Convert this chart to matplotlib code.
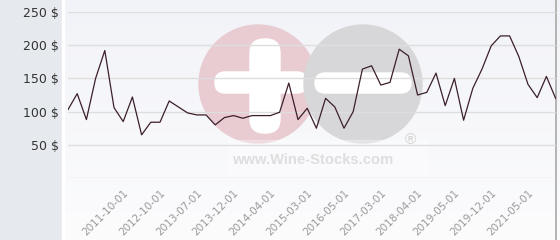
"""
Wine price history chart with Wine-Stocks style watermark.
"""

import numpy as np
import matplotlib.pyplot as plt
from matplotlib.colors import LinearSegmentedColormap
from matplotlib.patches import Circle, FancyBboxPatch, Rectangle

W, H, DPI = 560, 240, 100

# Price per observation (categorical x axis, one point per quote)
prices = [103, 127, 88, 150, 192, 106, 85, 122, 65, 84,
          84, 116, 107, 98, 95, 95, 80, 91, 94, 90,
          94, 94, 94, 99, 143, 88, 105, 75, 120, 107,
          75, 100, 164, 169, 140, 144, 194, 184, 125, 129,
          158, 109, 150, 87, 135, 164, 199, 214, 214, 183,
          141, 121, 153, 120]

tick_labels = ['2011-10-01', '2012-10-01', '2013-07-01', '2013-12-01',
               '2014-04-01', '2015-03-01', '2016-05-01', '2017-03-01',
               '2018-04-01', '2019-05-01', '2019-12-01', '2021-05-01']
first_tick, tick_step = 6, 4

y_ticks = [0, 50, 100, 150, 200, 250]

LINE_COLOR = '#3b1f2b'
PANEL_COLOR = '#e6eaee'


def draw_background(fig):
    bg = fig.add_axes([0, 0, 1, 1], zorder=0)
    bg.set_xlim(0, W)
    bg.set_ylim(H, 0)
    bg.axis('off')

    cmap = LinearSegmentedColormap.from_list('bg', ['#f2f3f8', '#fcfcfd'])
    grad = np.linspace(0, 1, 100).reshape(-1, 1)
    bg.imshow(grad, extent=[62, W, H, 0], cmap=cmap, aspect='auto', zorder=0)

    bg.add_patch(Rectangle((0, 0), 62, H, color=PANEL_COLOR, zorder=1))
    bg.add_patch(Rectangle((62, 0), 1.5, H, color='white', zorder=1))
    bg.plot([556, 556], [0, H], color='#a8a8a8', lw=1.2, zorder=1)

    # watermark
    bg.add_patch(Circle((258, 84), 59, color='#e9cbd2', zorder=2))
    bg.add_patch(FancyBboxPatch((250, 39), 30, 94, boxstyle='round,pad=0,rounding_size=14',
                                color='white', zorder=3))
    bg.add_patch(FancyBboxPatch((215, 72), 92, 21, boxstyle='round,pad=0,rounding_size=10',
                                color='white', zorder=3))
    bg.add_patch(Circle((363, 84), 59, color='#d7d7d9', zorder=4))
    bg.add_patch(FancyBboxPatch((315, 73), 96, 20, boxstyle='round,pad=0,rounding_size=10',
                                color='white', zorder=5))
    bg.add_patch(Rectangle((228, 140), 199, 36, color='white', alpha=0.3, zorder=5))
    bg.text(313, 160, 'www.Wine-Stocks.com', ha='center', va='center', fontsize=10.6,
            fontweight='bold', family='Liberation Sans', color='#dedede', zorder=6)
    bg.text(410, 140, '®', ha='center', va='center', fontsize=11,
            family='Liberation Sans', color='#d2d2d2', zorder=6)


def draw_chart(fig):
    ax = fig.add_axes([68 / W, (H - 178) / H, (555.6 - 68) / W, (178 - 12) / H], zorder=1)
    ax.patch.set_alpha(0)

    x = np.arange(len(prices))
    ax.plot(x, prices, color=LINE_COLOR, lw=0.9, zorder=3)
    ax.set_xlim(0, len(prices) - 1)
    ax.set_ylim(0, 250)

    ax.set_yticks(y_ticks)
    ax.set_yticklabels(['' if v == 0 else f'{v} $' for v in y_ticks], fontsize=9, color='#333333')
    ax.yaxis.grid(True, color='#dedede', lw=1)
    ax.set_axisbelow(True)

    tick_pos = list(range(first_tick, len(prices), tick_step))[:len(tick_labels)]
    ax.set_xticks(tick_pos)
    ax.set_xticklabels(tick_labels, rotation=45, ha='right', rotation_mode='anchor',
                       fontsize=7.5, color='#999999')

    ax.tick_params(axis='y', length=0, pad=6.5)
    ax.tick_params(axis='x', length=0, pad=7)
    for s in ax.spines.values():
        s.set_visible(False)


if __name__ == '__main__':
    fig = plt.figure(figsize=(W / DPI, H / DPI), dpi=DPI)
    draw_background(fig)
    draw_chart(fig)
    fig.savefig('out.png', dpi=DPI)
